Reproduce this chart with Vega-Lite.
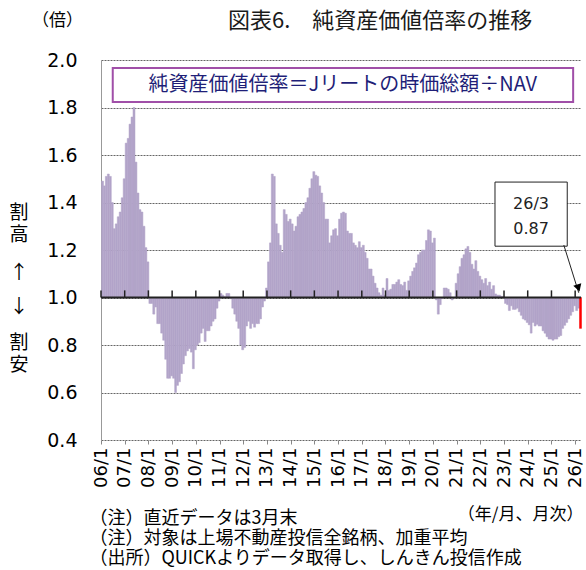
{
  "$schema": "https://vega.github.io/schema/vega-lite/v6.json",
  "width": 480,
  "height": 380,
  "autosize": {"type": "none"},
  "padding": {"left": 101, "top": 60, "right": 5, "bottom": 130},
  "background": "white",
  "config": {"view": {"stroke": null}},
  "title": {"text": "図表6.　純資産価値倍率の推移", "font": "Noto Sans CJK JP", "fontSize": 22, "fontWeight": "normal", "color": "#1a1a1a", "anchor": "start", "dx": 127, "dy": 26, "frame": "group"},
  "data": {"values": [
    {"d":"2006-01","v":1.49},{"d":"2006-02","v":1.47},{"d":"2006-03","v":1.51},{"d":"2006-04","v":1.52},{"d":"2006-05","v":1.51},{"d":"2006-06","v":1.40},{"d":"2006-07","v":1.29},{"d":"2006-08","v":1.31},{"d":"2006-09","v":1.34},{"d":"2006-10","v":1.36},{"d":"2006-11","v":1.42},{"d":"2006-12","v":1.50},
    {"d":"2007-01","v":1.65},{"d":"2007-02","v":1.67},{"d":"2007-03","v":1.73},{"d":"2007-04","v":1.76},{"d":"2007-05","v":1.80},{"d":"2007-06","v":1.57},{"d":"2007-07","v":1.44},{"d":"2007-08","v":1.37},{"d":"2007-09","v":1.36},{"d":"2007-10","v":1.30},{"d":"2007-11","v":1.21},{"d":"2007-12","v":1.15},
    {"d":"2008-01","v":0.975},{"d":"2008-02","v":0.975},{"d":"2008-03","v":0.93},{"d":"2008-04","v":0.96},{"d":"2008-05","v":0.89},{"d":"2008-06","v":0.89},{"d":"2008-07","v":0.85},{"d":"2008-08","v":0.82},{"d":"2008-09","v":0.74},{"d":"2008-10","v":0.66},{"d":"2008-11","v":0.66},{"d":"2008-12","v":0.67},
    {"d":"2009-01","v":0.66},{"d":"2009-02","v":0.60},{"d":"2009-03","v":0.63},{"d":"2009-04","v":0.645},{"d":"2009-05","v":0.68},{"d":"2009-06","v":0.72},{"d":"2009-07","v":0.755},{"d":"2009-08","v":0.775},{"d":"2009-09","v":0.785},{"d":"2009-10","v":0.77},{"d":"2009-11","v":0.70},{"d":"2009-12","v":0.78},
    {"d":"2010-01","v":0.80},{"d":"2010-02","v":0.81},{"d":"2010-03","v":0.85},{"d":"2010-04","v":0.87},{"d":"2010-05","v":0.815},{"d":"2010-06","v":0.86},{"d":"2010-07","v":0.86},{"d":"2010-08","v":0.88},{"d":"2010-09","v":0.90},{"d":"2010-10","v":0.91},{"d":"2010-11","v":0.955},{"d":"2010-12","v":0.985},
    {"d":"2011-01","v":1.017},{"d":"2011-02","v":1.01},{"d":"2011-03","v":1.003},{"d":"2011-04","v":1.017},{"d":"2011-05","v":1.017},{"d":"2011-06","v":0.995},{"d":"2011-07","v":0.955},{"d":"2011-08","v":0.93},{"d":"2011-09","v":0.90},{"d":"2011-10","v":0.87},{"d":"2011-11","v":0.80},{"d":"2011-12","v":0.78},
    {"d":"2012-01","v":0.79},{"d":"2012-02","v":0.88},{"d":"2012-03","v":0.90},{"d":"2012-04","v":0.87},{"d":"2012-05","v":0.89},{"d":"2012-06","v":0.875},{"d":"2012-07","v":0.89},{"d":"2012-08","v":0.89},{"d":"2012-09","v":0.91},{"d":"2012-10","v":0.96},{"d":"2012-11","v":0.985},{"d":"2012-12","v":1.04},
    {"d":"2013-01","v":1.15},{"d":"2013-02","v":1.23},{"d":"2013-03","v":1.52},{"d":"2013-04","v":1.51},{"d":"2013-05","v":1.31},{"d":"2013-06","v":1.27},{"d":"2013-07","v":1.22},{"d":"2013-08","v":1.19},{"d":"2013-09","v":1.37},{"d":"2013-10","v":1.35},{"d":"2013-11","v":1.32},{"d":"2013-12","v":1.33},
    {"d":"2014-01","v":1.31},{"d":"2014-02","v":1.28},{"d":"2014-03","v":1.30},{"d":"2014-04","v":1.34},{"d":"2014-05","v":1.35},{"d":"2014-06","v":1.36},{"d":"2014-07","v":1.375},{"d":"2014-08","v":1.40},{"d":"2014-09","v":1.42},{"d":"2014-10","v":1.46},{"d":"2014-11","v":1.50},{"d":"2014-12","v":1.53},
    {"d":"2015-01","v":1.515},{"d":"2015-02","v":1.51},{"d":"2015-03","v":1.47},{"d":"2015-04","v":1.44},{"d":"2015-05","v":1.40},{"d":"2015-06","v":1.33},{"d":"2015-07","v":1.33},{"d":"2015-08","v":1.23},{"d":"2015-09","v":1.26},{"d":"2015-10","v":1.285},{"d":"2015-11","v":1.29},{"d":"2015-12","v":1.26},
    {"d":"2016-01","v":1.33},{"d":"2016-02","v":1.355},{"d":"2016-03","v":1.36},{"d":"2016-04","v":1.355},{"d":"2016-05","v":1.28},{"d":"2016-06","v":1.27},{"d":"2016-07","v":1.27},{"d":"2016-08","v":1.23},{"d":"2016-09","v":1.22},{"d":"2016-10","v":1.21},{"d":"2016-11","v":1.235},{"d":"2016-12","v":1.21},
    {"d":"2017-01","v":1.22},{"d":"2017-02","v":1.19},{"d":"2017-03","v":1.165},{"d":"2017-04","v":1.12},{"d":"2017-05","v":1.12},{"d":"2017-06","v":1.09},{"d":"2017-07","v":1.06},{"d":"2017-08","v":1.04},{"d":"2017-09","v":1.02},{"d":"2017-10","v":1.01},{"d":"2017-11","v":1.04},{"d":"2017-12","v":1.01},
    {"d":"2018-01","v":1.08},{"d":"2018-02","v":1.03},{"d":"2018-03","v":1.035},{"d":"2018-04","v":1.055},{"d":"2018-05","v":1.055},{"d":"2018-06","v":1.065},{"d":"2018-07","v":1.075},{"d":"2018-08","v":1.055},{"d":"2018-09","v":1.05},{"d":"2018-10","v":1.065},{"d":"2018-11","v":1.03},{"d":"2018-12","v":1.07},
    {"d":"2019-01","v":1.09},{"d":"2019-02","v":1.11},{"d":"2019-03","v":1.125},{"d":"2019-04","v":1.145},{"d":"2019-05","v":1.18},{"d":"2019-06","v":1.19},{"d":"2019-07","v":1.20},{"d":"2019-08","v":1.20},{"d":"2019-09","v":1.24},{"d":"2019-10","v":1.285},{"d":"2019-11","v":1.28},{"d":"2019-12","v":1.23},
    {"d":"2020-01","v":1.25},{"d":"2020-02","v":0.99},{"d":"2020-03","v":0.93},{"d":"2020-04","v":0.97},{"d":"2020-05","v":0.995},{"d":"2020-06","v":1.04},{"d":"2020-07","v":1.04},{"d":"2020-08","v":1.035},{"d":"2020-09","v":1.02},{"d":"2020-10","v":0.99},{"d":"2020-11","v":1.0},{"d":"2020-12","v":1.06},
    {"d":"2021-01","v":1.10},{"d":"2021-02","v":1.13},{"d":"2021-03","v":1.165},{"d":"2021-04","v":1.18},{"d":"2021-05","v":1.205},{"d":"2021-06","v":1.215},{"d":"2021-07","v":1.19},{"d":"2021-08","v":1.14},{"d":"2021-09","v":1.12},{"d":"2021-10","v":1.155},{"d":"2021-11","v":1.11},{"d":"2021-12","v":1.09},
    {"d":"2022-01","v":1.075},{"d":"2022-02","v":1.06},{"d":"2022-03","v":1.08},{"d":"2022-04","v":1.05},{"d":"2022-05","v":1.065},{"d":"2022-06","v":1.035},{"d":"2022-07","v":1.05},{"d":"2022-08","v":1.015},{"d":"2022-09","v":1.01},{"d":"2022-10","v":1.01},{"d":"2022-11","v":1.005},{"d":"2022-12","v":1.003},
    {"d":"2023-01","v":0.975},{"d":"2023-02","v":0.97},{"d":"2023-03","v":0.945},{"d":"2023-04","v":0.965},{"d":"2023-05","v":0.95},{"d":"2023-06","v":0.95},{"d":"2023-07","v":0.955},{"d":"2023-08","v":0.94},{"d":"2023-09","v":0.925},{"d":"2023-10","v":0.91},{"d":"2023-11","v":0.905},{"d":"2023-12","v":0.895},
    {"d":"2024-01","v":0.885},{"d":"2024-02","v":0.85},{"d":"2024-03","v":0.895},{"d":"2024-04","v":0.88},{"d":"2024-05","v":0.887},{"d":"2024-06","v":0.88},{"d":"2024-07","v":0.88},{"d":"2024-08","v":0.86},{"d":"2024-09","v":0.85},{"d":"2024-10","v":0.835},{"d":"2024-11","v":0.825},{"d":"2024-12","v":0.825},
    {"d":"2025-01","v":0.82},{"d":"2025-02","v":0.825},{"d":"2025-03","v":0.825},{"d":"2025-04","v":0.835},{"d":"2025-05","v":0.84},{"d":"2025-06","v":0.87},{"d":"2025-07","v":0.883},{"d":"2025-08","v":0.895},{"d":"2025-09","v":0.91},{"d":"2025-10","v":0.925},{"d":"2025-11","v":0.94},{"d":"2025-12","v":0.965},
    {"d":"2026-01","v":0.945},{"d":"2026-02","v":0.955},{"d":"2026-03","v":0.87}
  ]},
  "resolve": {"axis": {"x": "independent", "y": "independent"}},
  "layer": [
    {
      "mark": {"type": "bar", "binSpacing": 0, "strokeWidth": 0.5},
      "encoding": {
        "x": {"field": "d", "type": "temporal", "timeUnit": "utcyearmonth",
          "scale": {"type": "utc", "domain": [{"year": 2006, "month": 1, "date": 1, "utc": true}, {"year": 2026, "month": 4, "date": 1, "utc": true}]},
          "axis": {"orient": "bottom", "labelExpr": "utcFormat(datum.value, '%y/%-m')",
            "values": [{"year":2006,"month":1,"date":1,"utc":true},{"year":2007,"month":1,"date":1,"utc":true},{"year":2008,"month":1,"date":1,"utc":true},{"year":2009,"month":1,"date":1,"utc":true},{"year":2010,"month":1,"date":1,"utc":true},{"year":2011,"month":1,"date":1,"utc":true},{"year":2012,"month":1,"date":1,"utc":true},{"year":2013,"month":1,"date":1,"utc":true},{"year":2014,"month":1,"date":1,"utc":true},{"year":2015,"month":1,"date":1,"utc":true},{"year":2016,"month":1,"date":1,"utc":true},{"year":2017,"month":1,"date":1,"utc":true},{"year":2018,"month":1,"date":1,"utc":true},{"year":2019,"month":1,"date":1,"utc":true},{"year":2020,"month":1,"date":1,"utc":true},{"year":2021,"month":1,"date":1,"utc":true},{"year":2022,"month":1,"date":1,"utc":true},{"year":2023,"month":1,"date":1,"utc":true},{"year":2024,"month":1,"date":1,"utc":true},{"year":2025,"month":1,"date":1,"utc":true},{"year":2026,"month":1,"date":1,"utc":true}],
            "labelAngle": 270, "labelAlign": "right", "labelBaseline": "middle", "labelFont": "DejaVu Sans", "labelFontSize": 18, "labelColor": "#000", "labelPadding": 3, "labelOverlap": false, "labelFlush": false,
            "ticks": true, "tickSize": 4, "tickColor": "#888", "domain": false, "grid": false,
            "title": ["（注）直近データは3月末", "（注）対象は上場不動産投信全銘柄、加重平均", "（出所）QUICKよりデータ取得し、しんきん投信作成"],
            "titleFont": "Noto Sans CJK JP", "titleFontSize": 18, "titleFontWeight": "normal", "titleColor": "#000",
            "titleAlign": "left", "titleBaseline": "top", "titleX": -12, "titleY": 69, "titleLineHeight": 20}},
        "y": {"field": "v", "type": "quantitative",
          "scale": {"domain": [0.4, 2.0], "nice": false, "zero": false},
          "axis": {"orient": "left", "values": [0.4, 0.6, 0.8, 1, 1.2, 1.4, 1.6, 1.8, 2], "format": ".1f",
            "labelFont": "DejaVu Sans", "labelFontSize": 19, "labelColor": "#000", "labelPadding": 24,
            "ticks": false, "domain": true, "domainColor": "#999", "domainWidth": 1,
            "grid": true, "gridColor": "#666", "gridDash": [2, 1], "gridWidth": 1,
            "title": "（倍）", "titleAngle": 0, "titleX": -44, "titleY": -40, "titleAlign": "center", "titleBaseline": "middle",
            "titleFont": "Noto Sans CJK JP", "titleFontSize": 17, "titleFontWeight": "normal", "titleColor": "#000"}},
        "y2": {"datum": 1},
        "fill": {"condition": {"test": "utcyear(datum.d) == 2026 && utcmonth(datum.d) == 2", "value": "#ff0000"}, "value": "#b2a4c9"},
        "stroke": {"condition": {"test": "utcyear(datum.d) == 2026 && utcmonth(datum.d) == 2", "value": "#ff0000"}, "value": "#b2a4c9"}
      }
    },
    {
      "data": {"values": [{}]},
      "mark": {"type": "rule", "color": "#222", "strokeWidth": 2},
      "encoding": {"y": {"datum": 1, "type": "quantitative", "axis": null}}
    },
    {
      "transform": [{"filter": "utcmonth(toDate(datum.d)) === 0"}],
      "mark": {"type": "rule", "color": "#222", "strokeWidth": 1.5},
      "encoding": {
        "x": {"field": "d", "type": "temporal", "timeUnit": "utcyearmonth", "bandPosition": 0,
          "axis": {"orient": "top", "labels": false, "ticks": false, "domain": false, "grid": false,
            "title": "（年/月、月次）", "titleX": 482, "titleY": 454, "titleAlign": "right", "titleBaseline": "middle",
            "titleFont": "Noto Sans CJK JP", "titleFontSize": 17, "titleFontWeight": "normal", "titleColor": "#000"}},
        "y": {"datum": 1, "type": "quantitative", "axis": null},
        "y2": {"datum": 1.03}
      }
    },
    {
      "data": {"values": [{}]},
      "mark": {"type": "text", "text": ["割", "高"], "lineHeight": 22, "font": "Noto Sans CJK JP", "fontSize": 19, "color": "#000", "align": "center", "baseline": "middle"},
      "encoding": {
        "x": {"datum": {"year": 2002, "month": 7, "date": 16, "utc": true}, "type": "temporal", "axis": null},
        "y": {"datum": 1.356, "type": "quantitative", "axis": null}
      }
    },
    {
      "data": {"values": [{}]},
      "mark": {"type": "text", "text": "↑", "font": "Noto Sans CJK JP", "fontSize": 19, "color": "#000", "align": "center", "baseline": "middle"},
      "encoding": {
        "x": {"datum": {"year": 2002, "month": 7, "date": 16, "utc": true}, "type": "temporal", "axis": null},
        "y": {"datum": 1.103, "type": "quantitative", "axis": null}
      }
    },
    {
      "data": {"values": [{}]},
      "mark": {"type": "text", "text": "↓", "font": "Noto Sans CJK JP", "fontSize": 19, "color": "#000", "align": "center", "baseline": "middle"},
      "encoding": {
        "x": {"datum": {"year": 2002, "month": 7, "date": 16, "utc": true}, "type": "temporal", "axis": null},
        "y": {"datum": 0.96, "type": "quantitative", "axis": null}
      }
    },
    {
      "data": {"values": [{}]},
      "mark": {"type": "text", "text": ["割", "安"], "lineHeight": 22, "font": "Noto Sans CJK JP", "fontSize": 19, "color": "#000", "align": "center", "baseline": "middle"},
      "encoding": {
        "x": {"datum": {"year": 2002, "month": 7, "date": 16, "utc": true}, "type": "temporal", "axis": null},
        "y": {"datum": 0.808, "type": "quantitative", "axis": null}
      }
    },
    {
      "data": {"values": [{}]},
      "mark": {"type": "rect", "fill": "white", "stroke": "#a04fa8", "strokeWidth": 2},
      "encoding": {
        "x": {"datum": {"year": 2006, "month": 7, "date": 1, "utc": true}, "type": "temporal", "axis": null},
        "x2": {"datum": {"year": 2025, "month": 12, "date": 1, "utc": true}},
        "y": {"datum": 1.966, "type": "quantitative", "axis": null},
        "y2": {"datum": 1.823}
      }
    },
    {
      "data": {"values": [{}]},
      "mark": {"type": "text", "text": "純資産価値倍率＝Jリートの時価総額÷NAV", "font": "Noto Sans CJK JP", "fontSize": 20, "color": "#1f1f78", "align": "center", "baseline": "middle"},
      "encoding": {
        "x": {"datum": {"year": 2016, "month": 3, "date": 15, "utc": true}, "type": "temporal", "axis": null},
        "y": {"datum": 1.895, "type": "quantitative", "axis": null}
      }
    },
    {
      "data": {"values": [{}]},
      "mark": {"type": "rect", "fill": "white", "stroke": "#222", "strokeWidth": 1},
      "encoding": {
        "x": {"datum": {"year": 2022, "month": 8, "date": 15, "utc": true}, "type": "temporal", "axis": null},
        "x2": {"datum": {"year": 2025, "month": 9, "date": 1, "utc": true}},
        "y": {"datum": 1.486, "type": "quantitative", "axis": null},
        "y2": {"datum": 1.216}
      }
    },
    {
      "data": {"values": [{}]},
      "mark": {"type": "text", "text": ["26/3", "0.87"], "lineHeight": 25, "font": "DejaVu Sans", "fontSize": 16, "color": "#222", "align": "center", "baseline": "middle"},
      "encoding": {
        "x": {"datum": {"year": 2024, "month": 2, "date": 21, "utc": true}, "type": "temporal", "axis": null},
        "y": {"datum": 1.394, "type": "quantitative", "axis": null}
      }
    },
    {
      "data": {"values": [{}]},
      "mark": {"type": "rule", "color": "#222", "strokeWidth": 1},
      "encoding": {
        "x": {"datum": {"year": 2025, "month": 7, "date": 10, "utc": true}, "type": "temporal", "axis": null},
        "x2": {"datum": {"year": 2026, "month": 2, "date": 25, "utc": true}},
        "y": {"datum": 1.221, "type": "quantitative", "axis": null},
        "y2": {"datum": 1.02}
      }
    },
    {
      "data": {"values": [{}]},
      "mark": {"type": "point", "shape": "triangle-down", "filled": true, "color": "#000", "size": 70, "angle": -18, "opacity": 1},
      "encoding": {
        "x": {"datum": {"year": 2026, "month": 2, "date": 20, "utc": true}, "type": "temporal", "axis": null},
        "y": {"datum": 1.04, "type": "quantitative", "axis": null}
      }
    }
  ]
}
